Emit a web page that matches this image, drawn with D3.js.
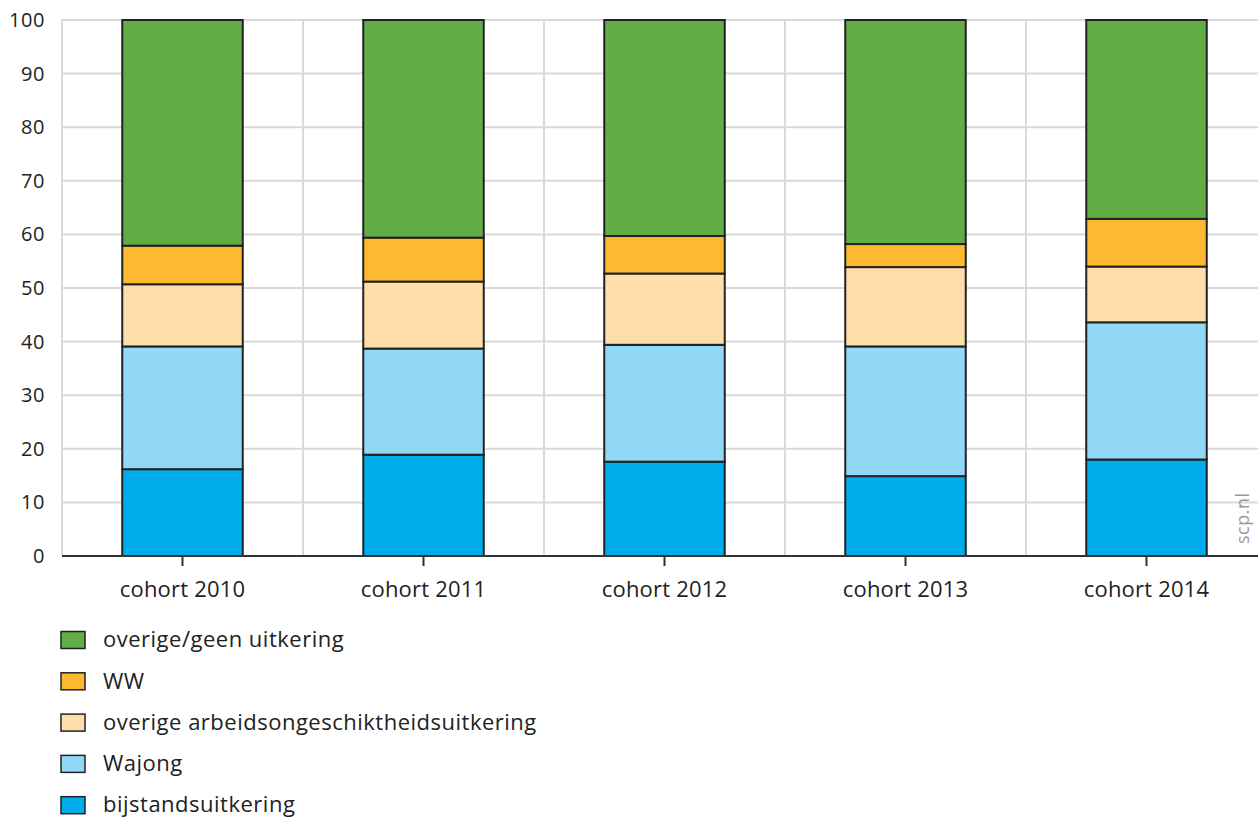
<!DOCTYPE html>
<html>
<head>
<meta charset="utf-8">
<script src="https://cdn.jsdelivr.net/npm/d3@7"></script>
<style>
  html, body { margin: 0; padding: 0; background: #fff; }
  svg { display: block; font-family: "Open Sans", "Noto Sans", sans-serif; }
</style>
</head>
<body>
<svg id="chart" width="1258" height="821"></svg>
<script>
const categories = ["cohort 2010", "cohort 2011", "cohort 2012", "cohort 2013", "cohort 2014"];
const seriesNames = ["bijstandsuitkering", "Wajong", "overige arbeidsongeschiktheidsuitkering", "WW", "overige/geen uitkering"];
const bijstand = [16.2, 18.9, 17.6, 14.9, 18.0];
const wajong = [22.9, 19.8, 21.8, 24.2, 25.6];
const overigeAO = [11.6, 12.5, 13.3, 14.8, 10.4];
const ww = [7.2, 8.2, 7.0, 4.3, 8.9];
const overigeGeen = [42.1, 40.6, 40.3, 41.8, 37.1];
const yTicks = [0, 10, 20, 30, 40, 50, 60, 70, 80, 90, 100];
const colors = ["#00adec", "#91d8f7", "#fedfab", "#fdba30", "#62ad45"];
const legendOrder = ["overige/geen uitkering", "WW", "overige arbeidsongeschiktheidsuitkering", "Wajong", "bijstandsuitkering"];

(function () {
const seriesValues = [bijstand, wajong, overigeAO, ww, overigeGeen];
const table = categories.map((c, i) => {
  const row = { cat: c };
  seriesNames.forEach((s, j) => row[s] = seriesValues[j][i]);
  return row;
});

const svg = d3.select("#chart");
const pLeft = 62, pRight = 1267, pTop = 20, pBottom = 556;

const x = d3.scaleBand().domain(categories).range([pLeft, pRight]).paddingInner(0.5).paddingOuter(0.25);
const y = d3.scaleLinear().domain([0, 100]).range([pBottom, pTop]);
const color = d3.scaleOrdinal().domain(seriesNames).range(colors);

// horizontal gridlines
svg.append("g").selectAll("line").data(yTicks.filter(d => d > 0)).join("line")
  .attr("x1", pLeft).attr("x2", 1258)
  .attr("y1", d => y(d)).attr("y2", d => y(d))
  .attr("stroke", "#d9d9d9").attr("stroke-width", 2);

// vertical gridlines at band boundaries
const step = x.step();
const bounds = d3.range(0, categories.length + 1).map(i => pLeft + i * step);
svg.append("g").selectAll("line").data(bounds).join("line")
  .attr("x1", d => d).attr("x2", d => d)
  .attr("y1", pTop).attr("y2", pBottom)
  .attr("stroke", "#d9d9d9").attr("stroke-width", 2);

// y axis labels
svg.append("g").selectAll("text").data(yTicks).join("text")
  .attr("x", 45).attr("y", d => y(d))
  .attr("dy", "0.35em")
  .attr("text-anchor", "end")
  .attr("font-size", 20)
  .attr("letter-spacing", 0.6)
  .attr("fill", "#222")
  .text(d => d);

// stacked bars
const stack = d3.stack().keys(seriesNames);
const layers = stack(table);
svg.append("g").selectAll("g").data(layers).join("g")
  .attr("fill", d => color(d.key))
  .selectAll("rect").data(d => d).join("rect")
  .attr("x", d => x(d.data.cat))
  .attr("width", x.bandwidth())
  .attr("y", d => y(d[1]))
  .attr("height", d => y(d[0]) - y(d[1]))
  .attr("stroke", "#222")
  .attr("stroke-width", 2);

// x axis baseline
svg.append("line").attr("x1", pLeft).attr("x2", 1258).attr("y1", pBottom).attr("y2", pBottom)
  .attr("stroke", "#333").attr("stroke-width", 2);

// x ticks
svg.append("g").selectAll("line").data(categories).join("line")
  .attr("x1", d => x(d) + x.bandwidth() / 2).attr("x2", d => x(d) + x.bandwidth() / 2)
  .attr("y1", pBottom).attr("y2", pBottom + 10)
  .attr("stroke", "#333").attr("stroke-width", 2);

// x labels
svg.append("g").selectAll("text").data(categories).join("text")
  .attr("x", d => x(d) + x.bandwidth() / 2)
  .attr("y", 597)
  .attr("text-anchor", "middle")
  .attr("font-size", 22)
  .attr("letter-spacing", 0.2)
  .attr("fill", "#222")
  .text(d => d);

// watermark
svg.append("text")
  .attr("transform", "translate(1249,544) rotate(-90)")
  .attr("font-size", 18)
  .attr("letter-spacing", 0.5)
  .attr("fill", "#9a9a9a")
  .text("scp.nl");

// legend
const lg = svg.append("g").selectAll("g").data(legendOrder).join("g")
  .attr("transform", (d, i) => `translate(0, ${640 + i * 41.3})`);
lg.append("rect")
  .attr("x", 61).attr("y", -8.5).attr("width", 24).attr("height", 17)
  .attr("fill", d => color(d))
  .attr("stroke", "#222").attr("stroke-width", 1.5);
lg.append("text")
  .attr("x", 103).attr("y", 0).attr("dy", "0.33em")
  .attr("font-size", 22)
  .attr("letter-spacing", 0.5)
  .attr("fill", "#222")
  .text(d => d);
})();
</script>
</body>
</html>
